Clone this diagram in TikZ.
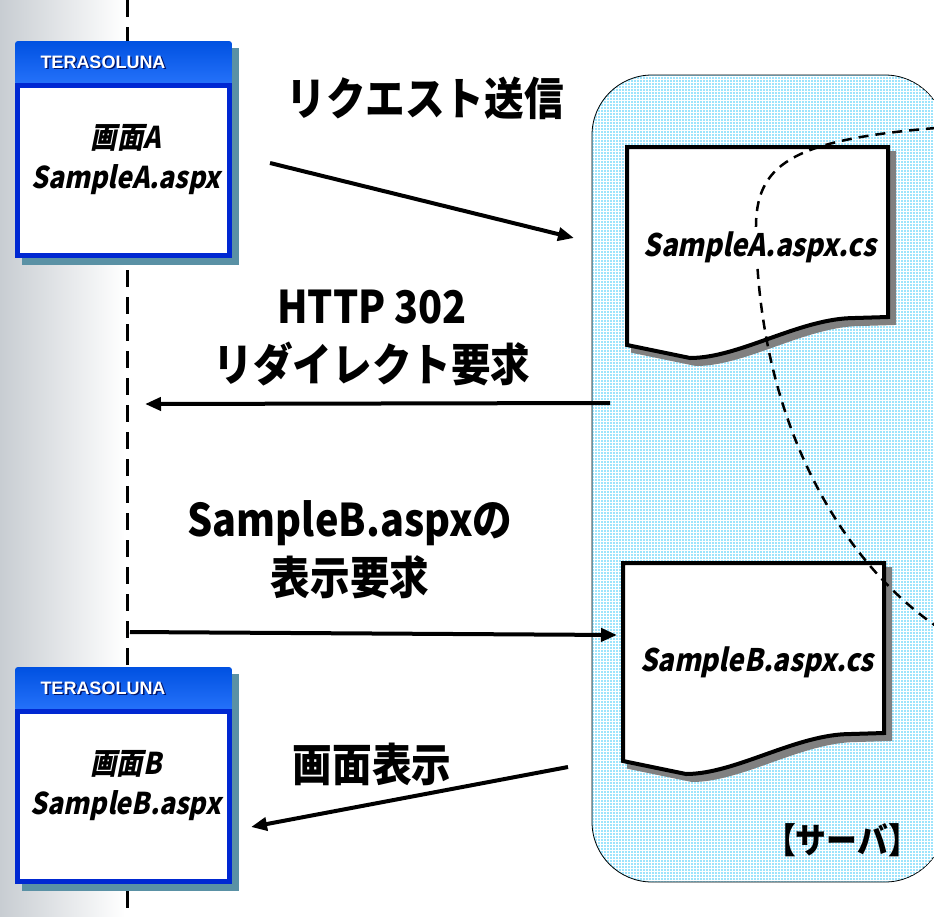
\documentclass[tikz,border=0pt]{standalone}
\usepackage{fontspec}
\newfontfamily\jp{Noto Sans CJK JP}[FakeStretch=0.88]
\newfontfamily\jpit{Noto Sans CJK JP}[FakeSlant=0.2,FakeStretch=0.88]
\newfontfamily\tera{Liberation Sans}
\usetikzlibrary{arrows.meta,patterns}
\definecolor{srvblue}{RGB}{158,228,252}
\definecolor{winblue}{RGB}{0,40,210}
\definecolor{winbar}{RGB}{0,90,250}
\definecolor{winshadow}{RGB}{90,145,165}
\definecolor{docshadow}{RGB}{128,128,128}
\definecolor{stripgray}{RGB}{200,205,210}
\begin{document}
\begin{tikzpicture}[x=1pt,y=-1pt,
	msg/.style={line width=4pt,-{Triangle[length=16pt,width=13pt]}},
	lbl/.style={font=\jp\bfseries\fontsize{45}{58}\selectfont,align=center},
	code/.style={font=\jpit\bfseries\fontsize{31}{38}\selectfont,fill=white,inner sep=4pt}]
	\useasboundingbox (0,0) rectangle (934,916);
	\shade[left color=stripgray,right color=white] (0,0) rectangle (125,916);
	\draw[line width=3pt,dash pattern=on 17pt off 10pt] (127,0) -- (127,916);
	% server
	\draw[thick,fill=srvblue,rounded corners=60pt] (592,75) rectangle (945,882);
	\fill[pattern=grid,pattern color=white,rounded corners=59pt] (593,76) rectangle (945,881);
	\node[font=\jp\bfseries\fontsize{35}{38}\selectfont] (srv) at (842,840) {【サーバ】};
	% pages
	\foreach \dx/\dy in {627/147,623/563}
		\foreach \s/\f/\d in {6/docshadow/docshadow,0/white/black}
			\filldraw[fill=\f,draw=\d,line width=4pt,shift={(\dx+\s,\dy+\s)}] (0,0) -- (261,0) -- (261,170) -- (228,171) .. controls (173,171) and (113,211) .. (63,211) -- (0,198) -- cycle ;
	\draw[line width=2.5pt,dash pattern=on 10pt off 7pt] (936,128) .. controls (790,140) and (755,165) .. (756,230) .. controls (758,420) and (840,560) .. (936,626) ;
	\node[code] (codeA) at (760,247) {SampleA.aspx.cs};
	\node[code] (codeB) at (757,662) {SampleB.aspx.cs};
	% screens
	\foreach \y/\n in {41/A,667/B}{
		\begin{scope}[shift={(15,\y)}]
			\fill[winshadow] (7,7) rectangle (224,224);
			\shade[top color=winbar!90!black,bottom color=winbar!85!white,rounded corners=3pt] (0,0) rectangle (217,44);
			\fill[white] (0,42) rectangle (217,217);
			\draw[winblue,line width=5pt] (2.5,44.5) rectangle (214.5,214.5);
			\node[font=\tera\bfseries\fontsize{18}{20}\selectfont,text=winblue!50!black] at (89.5,22.5) {TERASOLUNA};
			\node[font=\tera\bfseries\fontsize{18}{20}\selectfont,text=white] (tera\n) at (88,21) {TERASOLUNA};
			\node[font=\jpit\bfseries\fontsize{30}{40}\selectfont,align=center] (scr\n) at (111,119) {画面\n\\Sample\n.aspx};
		\end{scope}}
	% messages
	\coordinate (reqS) at (270,163); \coordinate (reqE) at (574,238);
	\coordinate (redS) at (610,403); \coordinate (redE) at (145,404);
	\coordinate (getS) at (130,632); \coordinate (getE) at (617,635);
	\coordinate (resS) at (568,767); \coordinate (resE) at (251,827);
	\draw[msg] (reqS) -- (reqE) ; \draw[msg] (redS) -- (redE) ;
	\draw[msg] (getS) -- (getE) ; \draw[msg] (resS) -- (resE) ;
	\node[lbl] (reqL) at (425,98) {リクエスト送信};
	\node[lbl] (redL) at (372,338) {HTTP 302\\リダイレクト要求};
	\node[lbl] (getL) at (350,550) {SampleB.aspxの\\表示要求};
	\node[lbl] (resL) at (372,764) {画面表示};
\end{tikzpicture}
\end{document}
